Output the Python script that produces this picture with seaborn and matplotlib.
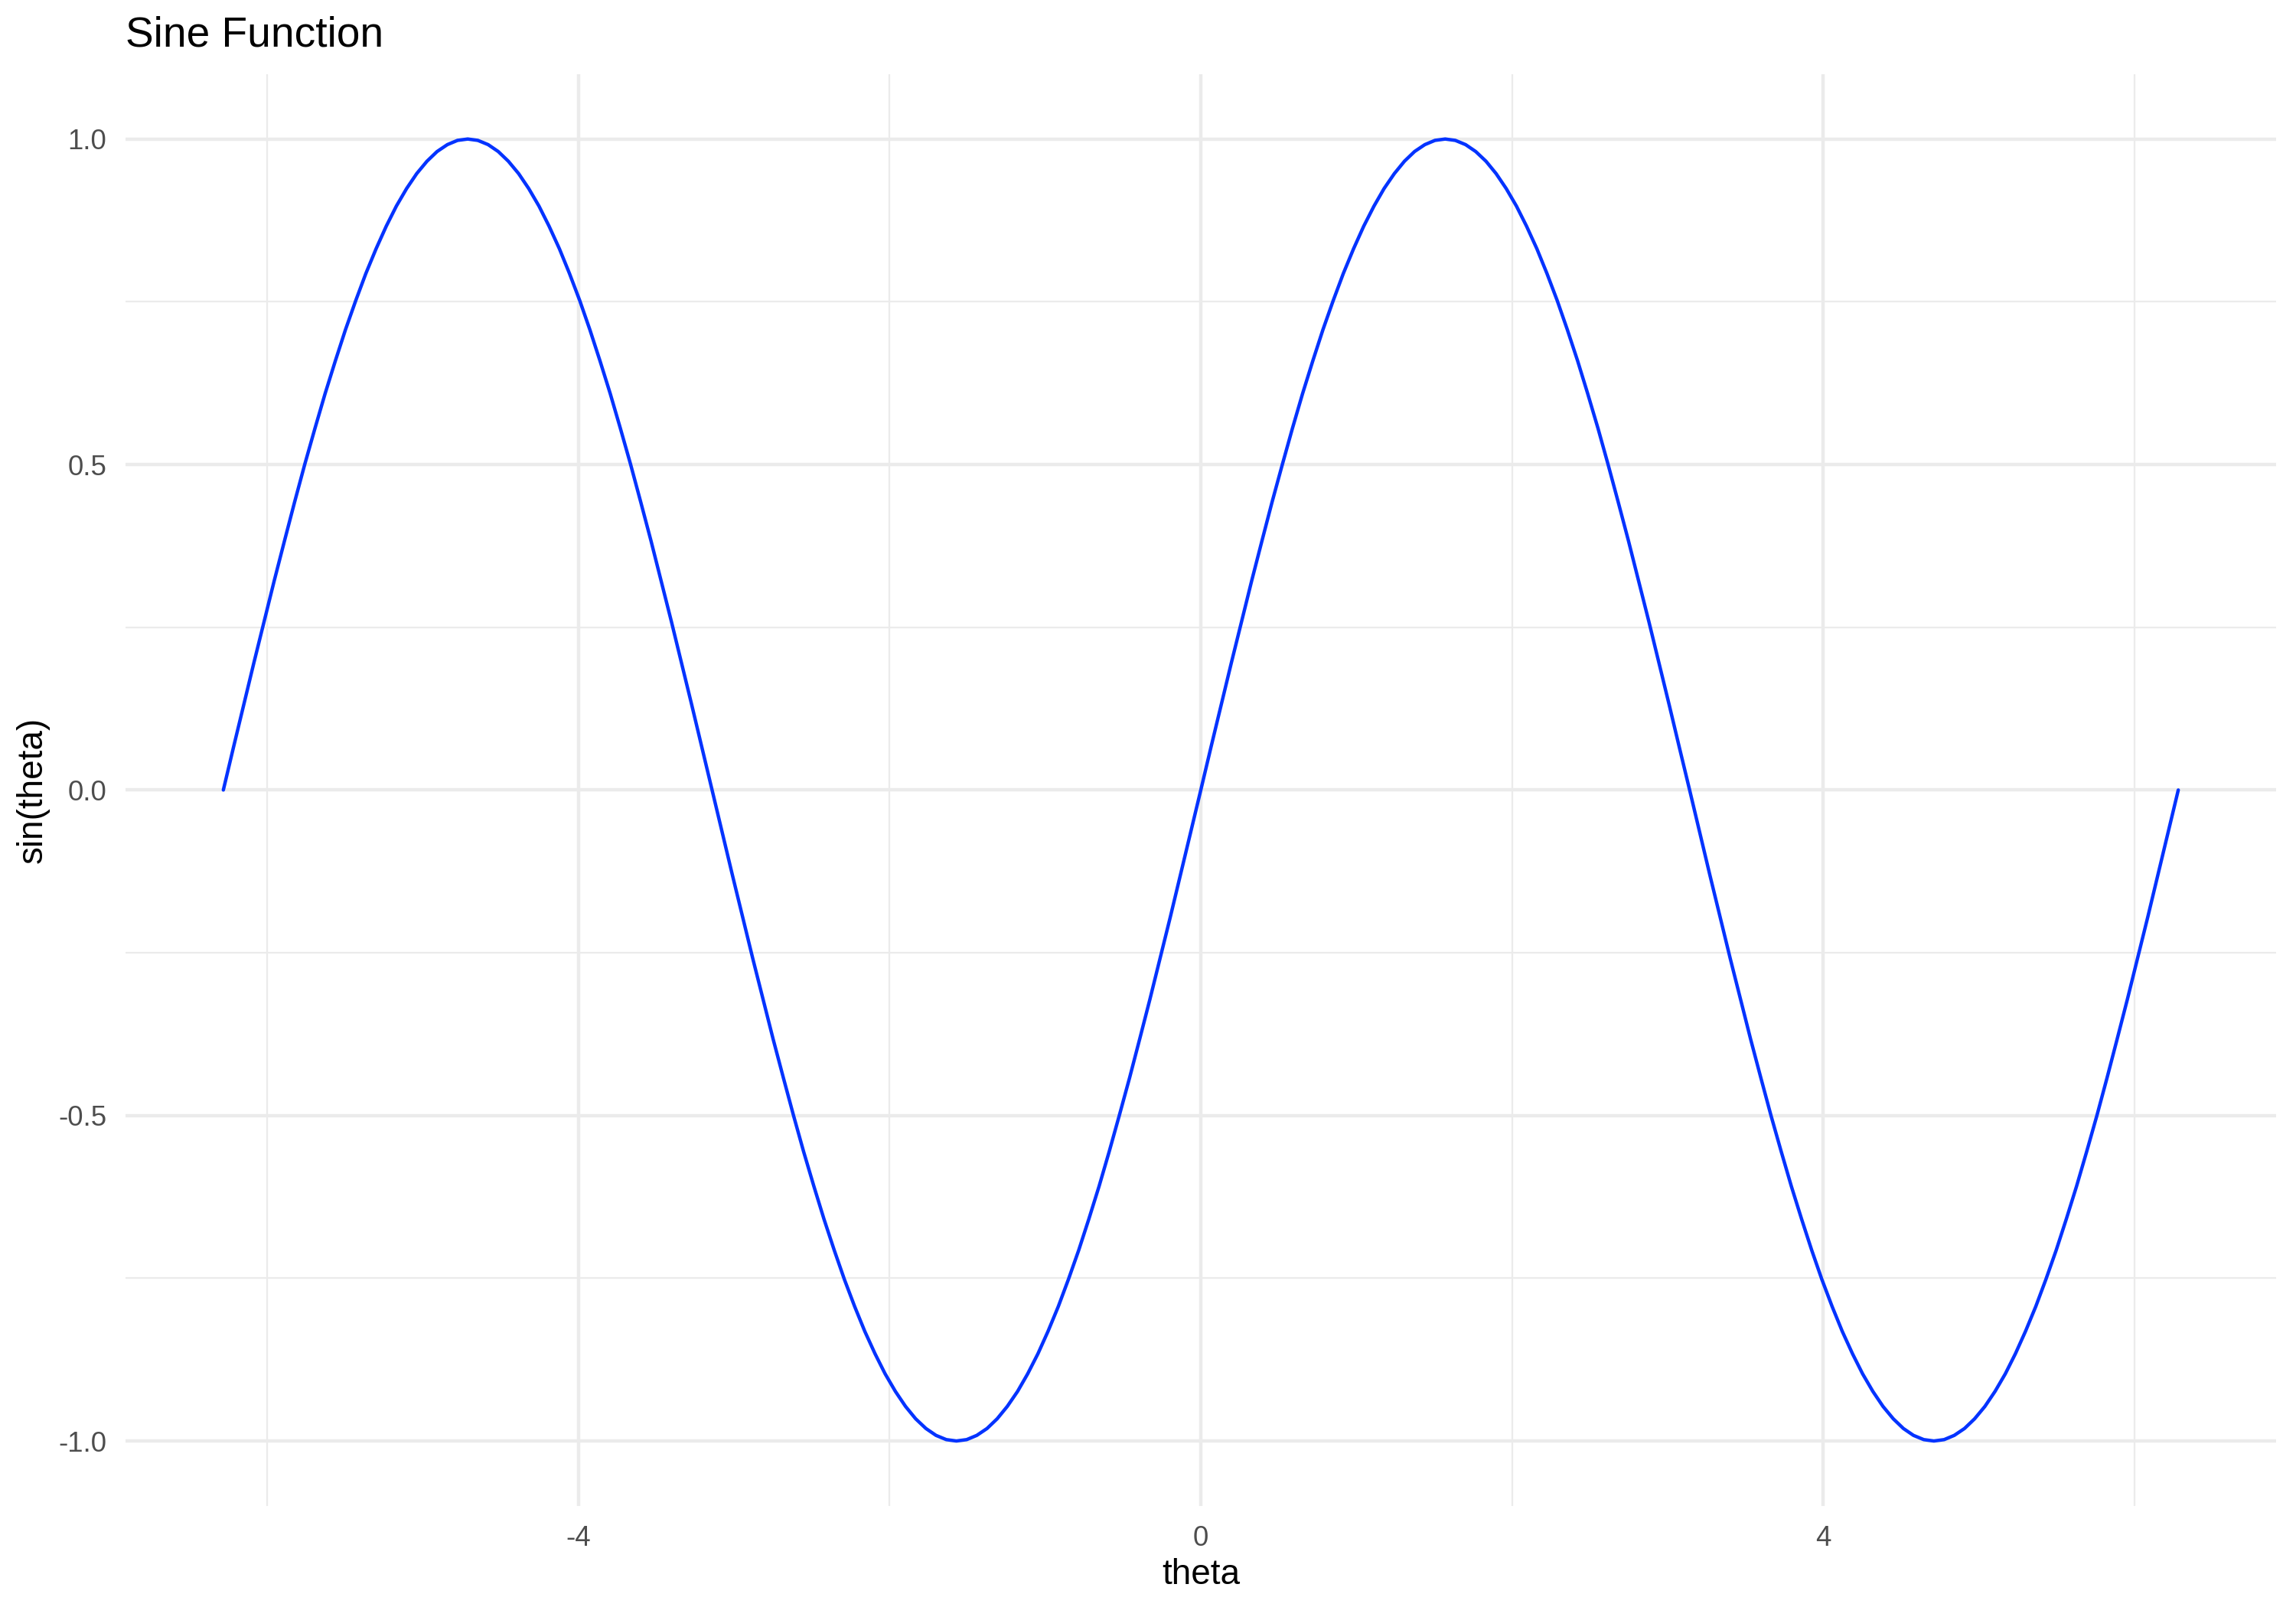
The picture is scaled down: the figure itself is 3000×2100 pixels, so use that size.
import matplotlib
matplotlib.use("Agg")
import matplotlib.pyplot as plt
import seaborn as sns
import pandas as pd

# ---- data ----
theta = [
    -6.283, -6.218, -6.152, -6.087, -6.021, -5.956, -5.890, -5.825, -5.760, -5.694,
    -5.629, -5.563, -5.498, -5.432, -5.367, -5.301, -5.236, -5.171, -5.105, -5.040,
    -4.974, -4.909, -4.843, -4.778, -4.712, -4.647, -4.581, -4.516, -4.451, -4.385,
    -4.320, -4.254, -4.189, -4.123, -4.058, -3.992, -3.927, -3.862, -3.796, -3.731,
    -3.665, -3.600, -3.534, -3.469, -3.403, -3.338, -3.272, -3.207, -3.142, -3.076,
    -3.011, -2.945, -2.880, -2.814, -2.749, -2.683, -2.618, -2.553, -2.487, -2.422,
    -2.356, -2.291, -2.225, -2.160, -2.094, -2.029, -1.963, -1.898, -1.833, -1.767,
    -1.702, -1.636, -1.571, -1.505, -1.440, -1.374, -1.309, -1.244, -1.178, -1.113,
    -1.047, -0.982, -0.916, -0.851, -0.785, -0.720, -0.654, -0.589, -0.524, -0.458,
    -0.393, -0.327, -0.262, -0.196, -0.131, -0.065,
    0.000,
    0.065, 0.131, 0.196, 0.262, 0.327, 0.393, 0.458, 0.524, 0.589, 0.654,
    0.720, 0.785, 0.851, 0.916, 0.982, 1.047, 1.113, 1.178, 1.244, 1.309,
    1.374, 1.440, 1.505, 1.571, 1.636, 1.702, 1.767, 1.833, 1.898, 1.963,
    2.029, 2.094, 2.160, 2.225, 2.291, 2.356, 2.422, 2.487, 2.553, 2.618,
    2.683, 2.749, 2.814, 2.880, 2.945, 3.011, 3.076, 3.142, 3.207, 3.272,
    3.338, 3.403, 3.469, 3.534, 3.600, 3.665, 3.731, 3.796, 3.862, 3.927,
    3.992, 4.058, 4.123, 4.189, 4.254, 4.320, 4.385, 4.451, 4.516, 4.581,
    4.647, 4.712, 4.778, 4.843, 4.909, 4.974, 5.040, 5.105, 5.171, 5.236,
    5.301, 5.367, 5.432, 5.498, 5.563, 5.629, 5.694, 5.760, 5.825, 5.890,
    5.956, 6.021, 6.087, 6.152, 6.218, 6.283,
]
sin_theta = [
    # -2pi .. 0
    0.0, 0.0654, 0.1305, 0.1951, 0.2588, 0.3214, 0.3827, 0.4423, 0.5, 0.5556, 0.6088, 0.6593,
    0.7071, 0.7518, 0.7934, 0.8315, 0.8660, 0.8969, 0.9239, 0.9469, 0.9659, 0.9808, 0.9914, 0.9979,
    1.0, 0.9979, 0.9914, 0.9808, 0.9659, 0.9469, 0.9239, 0.8969, 0.8660, 0.8315, 0.7934, 0.7518,
    0.7071, 0.6593, 0.6088, 0.5556, 0.5, 0.4423, 0.3827, 0.3214, 0.2588, 0.1951, 0.1305, 0.0654,
    0.0, -0.0654, -0.1305, -0.1951, -0.2588, -0.3214, -0.3827, -0.4423, -0.5, -0.5556, -0.6088, -0.6593,
    -0.7071, -0.7518, -0.7934, -0.8315, -0.8660, -0.8969, -0.9239, -0.9469, -0.9659, -0.9808, -0.9914, -0.9979,
    -1.0, -0.9979, -0.9914, -0.9808, -0.9659, -0.9469, -0.9239, -0.8969, -0.8660, -0.8315, -0.7934, -0.7518,
    -0.7071, -0.6593, -0.6088, -0.5556, -0.5, -0.4423, -0.3827, -0.3214, -0.2588, -0.1951, -0.1305, -0.0654,
    # 0 .. 2pi
    0.0, 0.0654, 0.1305, 0.1951, 0.2588, 0.3214, 0.3827, 0.4423, 0.5, 0.5556, 0.6088, 0.6593,
    0.7071, 0.7518, 0.7934, 0.8315, 0.8660, 0.8969, 0.9239, 0.9469, 0.9659, 0.9808, 0.9914, 0.9979,
    1.0, 0.9979, 0.9914, 0.9808, 0.9659, 0.9469, 0.9239, 0.8969, 0.8660, 0.8315, 0.7934, 0.7518,
    0.7071, 0.6593, 0.6088, 0.5556, 0.5, 0.4423, 0.3827, 0.3214, 0.2588, 0.1951, 0.1305, 0.0654,
    0.0, -0.0654, -0.1305, -0.1951, -0.2588, -0.3214, -0.3827, -0.4423, -0.5, -0.5556, -0.6088, -0.6593,
    -0.7071, -0.7518, -0.7934, -0.8315, -0.8660, -0.8969, -0.9239, -0.9469, -0.9659, -0.9808, -0.9914, -0.9979,
    -1.0, -0.9979, -0.9914, -0.9808, -0.9659, -0.9469, -0.9239, -0.8969, -0.8660, -0.8315, -0.7934, -0.7518,
    -0.7071, -0.6593, -0.6088, -0.5556, -0.5, -0.4423, -0.3827, -0.3214, -0.2588, -0.1951, -0.1305, -0.0654,
    0.0,
]
title = "Sine Function"
x_label = "theta"
y_label = "sin(theta)"
x_major = [-4, 0, 4]
x_major_labels = ["-4", "0", "4"]
x_minor = [-6, -2, 2, 6]
y_major = [-1.0, -0.5, 0.0, 0.5, 1.0]
y_major_labels = ["-1.0", "-0.5", "0.0", "0.5", "1.0"]
y_minor = [-0.75, -0.25, 0.25, 0.75]

# ---- style ----
sns.set_theme(style="white")
plt.rcParams['font.family'] = ['Liberation Sans', 'DejaVu Sans']
plt.rcParams['axes.unicode_minus'] = False

fig = plt.figure(figsize=(10, 7), dpi=300)
fig.patch.set_facecolor("white")
ax = fig.add_axes([0.0547, 0.0628, 0.9366, 0.8912])
ax.set_facecolor("white")

df = pd.DataFrame({"theta": theta, "sin_theta": sin_theta})
sns.lineplot(data=df, x="theta", y="sin_theta", color="#0433FF",
             linewidth=1.07, ax=ax, zorder=3, sort=False)

xmin, xmax = min(theta), max(theta)
ymin, ymax = min(sin_theta), max(sin_theta)
xr, yr = xmax - xmin, ymax - ymin
ax.set_xlim(xmin - 0.05 * xr, xmax + 0.05 * xr)
ax.set_ylim(ymin - 0.05 * yr, ymax + 0.05 * yr)

ax.set_xticks(x_major)
ax.set_xticklabels(x_major_labels)
ax.set_xticks(x_minor, minor=True)
ax.set_yticks(y_major)
ax.set_yticklabels(y_major_labels)
ax.set_yticks(y_minor, minor=True)

ax.grid(which="major", color="#EBEBEB", linewidth=1.07)
ax.grid(which="minor", color="#EBEBEB", linewidth=0.53)
ax.set_axisbelow(True)
for s in ax.spines.values():
    s.set_visible(False)
ax.tick_params(which="both", length=0, labelsize=8.8, labelcolor="#4D4D4D", pad=6)

ax.set_xlabel(x_label, fontsize=11, color="black", labelpad=1.8)
ax.set_ylabel(y_label, fontsize=11, color="black", labelpad=2.8)

fig.text(0.0547, 0.971, title, fontsize=13.2, ha="left", va="baseline", color="black")

fig.savefig("out.png", dpi=300, facecolor="white")
